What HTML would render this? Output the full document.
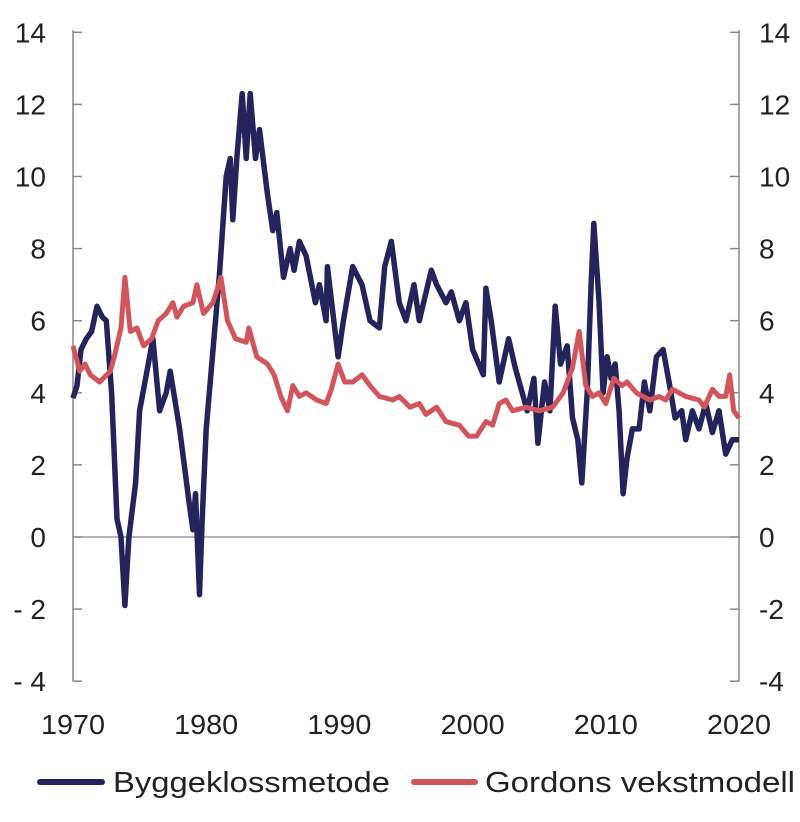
<!DOCTYPE html>
<html><head><meta charset="utf-8"><style>
body{margin:0;background:#fff;}
svg text{font-family:"Liberation Sans",sans-serif;fill:#222;}
</style></head><body>
<svg id="chart" width="800" height="817" xmlns="http://www.w3.org/2000/svg"></svg>
<script>
const yTicks=[-4,-2,0,2,4,6,8,10,12,14];
const yTickLabelsLeft=["- 4","- 2","0","2","4","6","8","10","12","14"];
const yTickLabelsRight=["-4","-2","0","2","4","6","8","10","12","14"];
const xTicks=[1970,1980,1990,2000,2010,2020];
const blueYears=[1970,1970.3,1970.6,1971,1971.4,1971.8,1972.2,1972.5,1972.9,1973.3,1973.6,1973.9,1974.2,1974.7,1975,1975.5,1976,1976.5,1977,1977.3,1978,1978.7,1979,1979.2,1979.5,1979.7,1980,1980.7,1981,1981.5,1981.8,1982,1982.3,1982.7,1983,1983.3,1983.7,1984,1984.6,1985,1985.3,1985.8,1986.3,1986.6,1987,1987.5,1988.2,1988.5,1989,1989.1,1989.9,1990.3,1991,1991.7,1992.3,1993,1993.4,1993.9,1994.5,1995,1995.6,1996,1996.9,1997.3,1998,1998.4,1999,1999.5,2000,2000.8,2001,2001.4,2002,2002.7,2003.2,2004.1,2004.6,2004.9,2005.4,2005.8,2006.2,2006.6,2007.1,2007.5,2007.9,2008.2,2008.6,2008.9,2009.1,2009.5,2009.8,2010.1,2010.4,2010.7,2011,2011.3,2011.6,2012,2012.5,2012.9,2013.3,2013.8,2014.3,2014.8,2015.2,2015.7,2016,2016.5,2017,2017.5,2018,2018.5,2019,2019.5,2020];
const blueValues=[3.85,4.2,5.2,5.5,5.7,6.4,6.1,6.0,4.0,0.5,0,-1.9,0,1.5,3.5,4.5,5.5,3.5,4.0,4.6,3.0,1.0,0.2,1.2,-1.6,0.5,3.0,6.0,7.3,10.0,10.5,8.8,10.5,12.3,10.5,12.3,10.5,11.3,9.5,8.5,9.0,7.2,8.0,7.4,8.2,7.8,6.5,7.0,6.0,7.5,5.0,6.0,7.5,7.0,6.0,5.8,7.5,8.2,6.5,6.0,7.0,6.0,7.4,7.0,6.5,6.8,6.0,6.5,5.2,4.5,6.9,6.0,4.3,5.5,4.7,3.5,4.4,2.6,4.3,3.5,6.4,4.8,5.3,3.3,2.7,1.5,4.0,7.0,8.7,6.5,4.0,5.0,4.4,4.8,3.5,1.2,2.2,3.0,3.0,4.3,3.5,5.0,5.2,4.2,3.3,3.5,2.7,3.5,3.0,3.7,2.9,3.5,2.3,2.7,2.7];
const redYears=[1970,1970.5,1970.9,1971.3,1972,1972.8,1973.1,1973.6,1973.9,1974.3,1974.8,1975.3,1975.9,1976.4,1977,1977.5,1977.8,1978.3,1979,1979.3,1979.8,1980.5,1981.1,1981.6,1982.2,1983,1983.2,1983.8,1984.6,1985.1,1985.6,1986.1,1986.5,1987,1987.5,1988.3,1989,1989.4,1989.9,1990.4,1991,1991.7,1992.3,1993,1994,1994.5,1995.3,1996,1996.5,1997.3,1998,1999,1999.7,2000.3,2001,2001.5,2002,2002.5,2003,2004,2005,2006,2006.8,2007.5,2008,2008.5,2009,2009.5,2010,2010.6,2011.2,2011.6,2012.3,2013.3,2014,2014.5,2015,2016,2017,2017.4,2018,2018.5,2019,2019.3,2019.6,2020];
const redValues=[5.3,4.6,4.8,4.5,4.3,4.6,5.0,5.8,7.2,5.7,5.8,5.3,5.5,6.0,6.2,6.5,6.1,6.4,6.5,7.0,6.2,6.5,7.2,6.0,5.5,5.4,5.8,5.0,4.8,4.5,3.9,3.5,4.2,3.9,4.0,3.8,3.7,4.1,4.8,4.3,4.3,4.5,4.2,3.9,3.8,3.9,3.6,3.7,3.4,3.6,3.2,3.1,2.8,2.8,3.2,3.1,3.7,3.8,3.5,3.6,3.5,3.6,4.0,4.7,5.7,4.2,3.9,4.0,3.7,4.4,4.2,4.3,4.0,3.8,3.9,3.8,4.1,3.9,3.8,3.6,4.1,3.9,3.9,4.5,3.5,3.3];

const svg=document.getElementById('chart');
const NS='http://www.w3.org/2000/svg';
const X0=73,X1=739,Y0=537,PER=36.05;
const xs=y=>X0+(y-1970)*(X1-X0)/50;
const ys=v=>Y0-v*PER;
function mk(tag,attrs,parent){const e=document.createElementNS(NS,tag);for(const k in attrs)e.setAttribute(k,attrs[k]);(parent||svg).appendChild(e);return e;}

let e;
e=mk('line',{x1:X0,y1:ys(14)-2,x2:X0,y2:ys(-4),stroke:'#888','stroke-width':1.5});


e=mk('line',{x1:X1,y1:ys(14)-2,x2:X1,y2:ys(-4),stroke:'#888','stroke-width':1.5});


e=mk('line',{x1:X0,y1:ys(0),x2:X1,y2:ys(0),stroke:'#888','stroke-width':1.2});


yTicks.forEach((t,i)=>{
  let a=mk('line',{x1:X0,y1:ys(t),x2:X0+9,y2:ys(t),stroke:'#888','stroke-width':1.5});
  
  
  let b=mk('line',{x1:X1-9,y1:ys(t),x2:X1,y2:ys(t),stroke:'#888','stroke-width':1.5});
  
  
  let l=mk('text',{x:46,y:ys(t)+10,'text-anchor':'end','font-size':28});
  l.textContent=yTickLabelsLeft[i];
  
  
  let r=mk('text',{x:759,y:ys(t)+10,'text-anchor':'start','font-size':28});
  r.textContent=yTickLabelsRight[i];
  
  
});
xTicks.forEach(t=>{
  let l=mk('text',{x:xs(t),y:734,'text-anchor':'middle','font-size':28,textLength:64,lengthAdjust:'spacingAndGlyphs'});
  l.textContent=t;
  
  
});
function pts(yr,v){return yr.map((y,i)=>xs(y).toFixed(1)+','+ys(v[i]).toFixed(1)).join(' ');}
e=mk('polyline',{points:pts(blueYears,blueValues),fill:'none',stroke:'#23245c','stroke-width':5.5,'stroke-linejoin':'round'});


e=mk('polyline',{points:pts(redYears,redValues),fill:'none',stroke:'#d1555a','stroke-width':5,'stroke-linejoin':'round'});


// legend
e=mk('line',{x1:40,y1:782,x2:102,y2:782,stroke:'#23245c','stroke-width':6,'stroke-linecap':'round'});


e=mk('text',{x:113,y:792,'font-size':29,textLength:277,lengthAdjust:'spacingAndGlyphs'});
e.textContent='Byggeklossmetode';


e=mk('line',{x1:414,y1:782,x2:475,y2:782,stroke:'#d1555a','stroke-width':6,'stroke-linecap':'round'});


e=mk('text',{x:485,y:792,'font-size':29,textLength:310,lengthAdjust:'spacingAndGlyphs'});
e.textContent='Gordons vekstmodell';


</script>
</body></html>
